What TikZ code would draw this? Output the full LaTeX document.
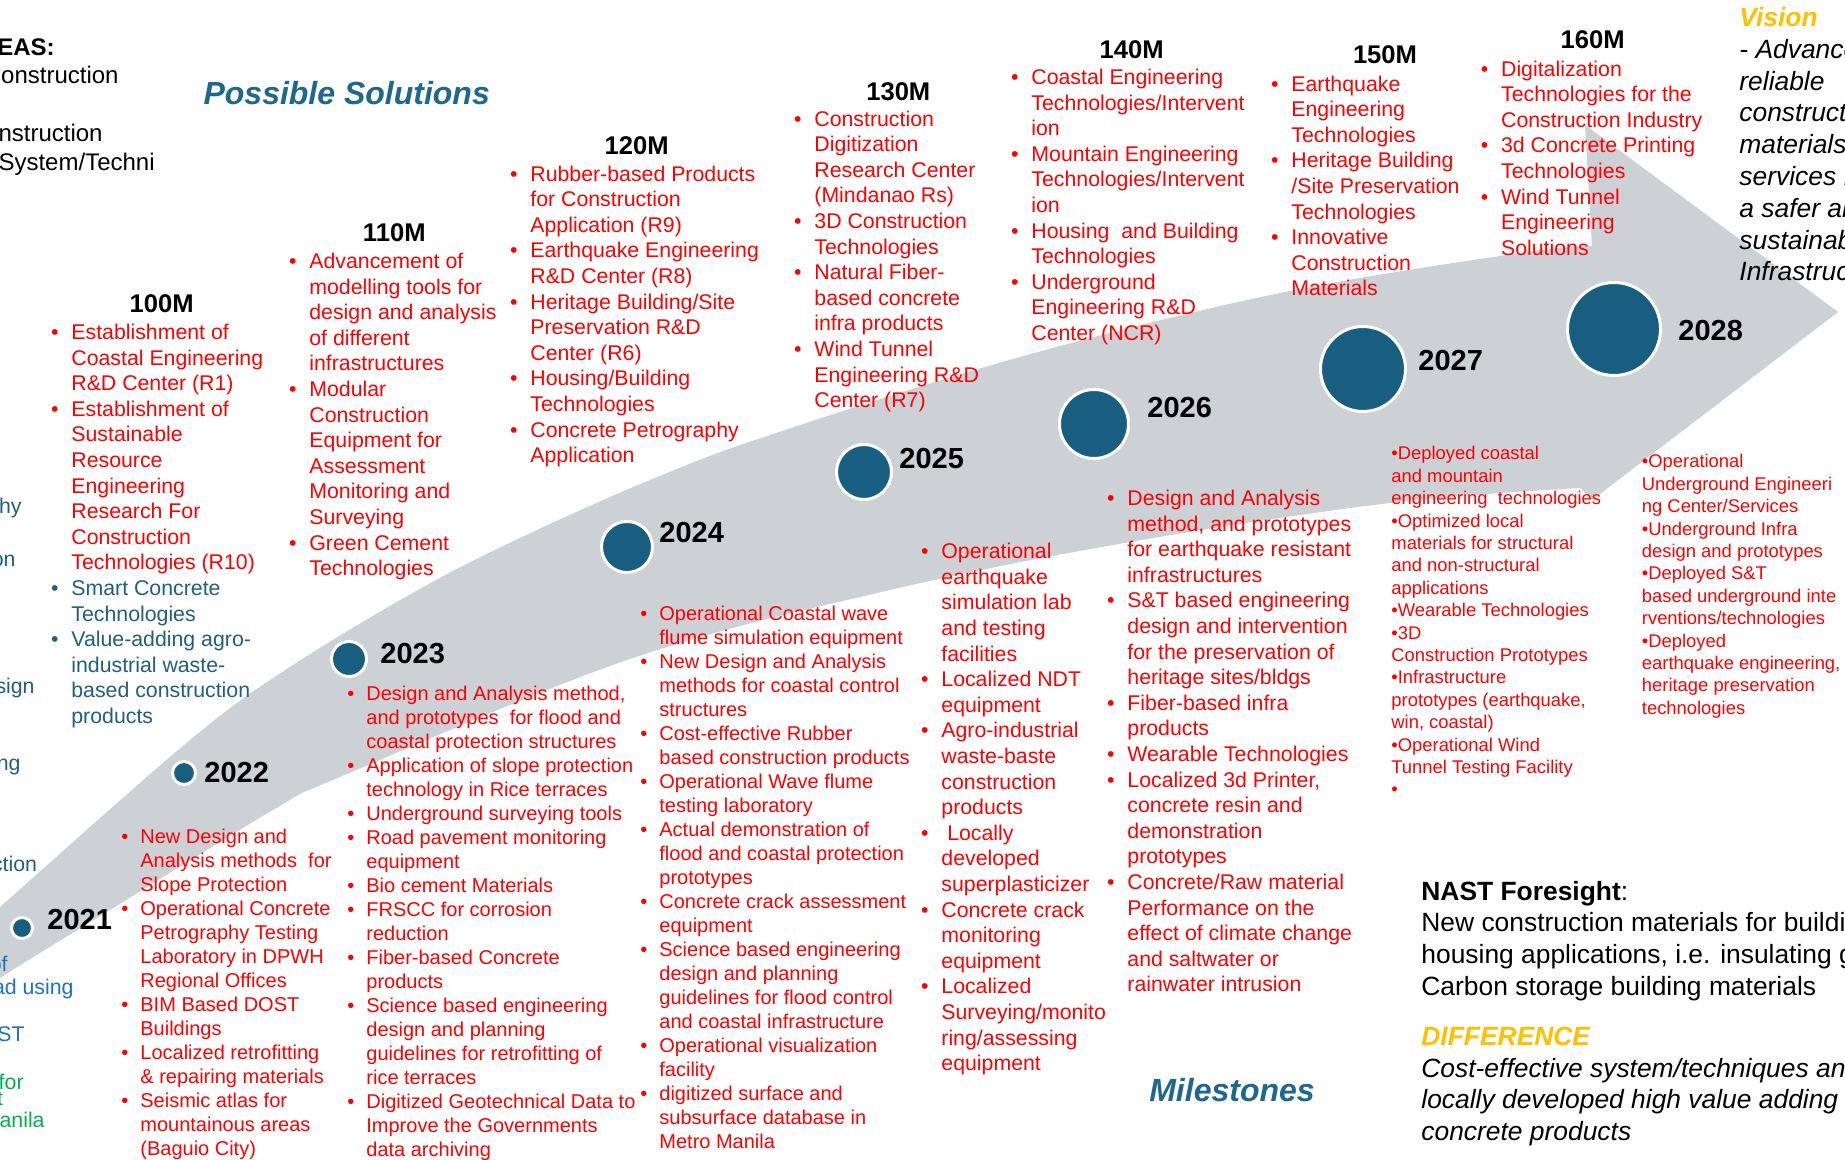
\documentclass[tikz,border=0pt]{standalone}
\usepackage{fontspec}
\setmainfont{Liberation Sans}
\definecolor{bandgray}{RGB}{204,209,214}
\definecolor{dotblue}{RGB}{24,94,128}
\definecolor{titleblue}{RGB}{30,104,140}
\definecolor{nastred}{RGB}{255,0,0}
\definecolor{nastteal}{RGB}{31,95,128}
\definecolor{nastgold}{RGB}{255,192,0}
\definecolor{edgeblue}{RGB}{30,115,190}
\definecolor{edgegreen}{RGB}{0,176,80}
\newcommand{\bul}{\makebox[0pt][r]{\textbullet\hspace{0.6em}}}
\newcommand{\tealln}[1]{\textcolor{nastteal}{#1}}
\begin{document}
\begin{tikzpicture}[x=0.5pt, y=-0.5pt,
		band/.style={fill=bandgray},
		msdot/.style={circle, fill=dotblue, draw=white, line width=1.5pt, inner sep=0},
		yr/.style={anchor=west, inner sep=0, font=\bfseries\fontsize{14.5}{17}\selectfont},
		hdr/.style={inner sep=0, font=\bfseries\fontsize{12.8}{15}\selectfont},
		lst/.style={anchor=north west, inner sep=0, yshift=-1.2pt, align=left, text=nastred, execute at begin node=\strut},
		upl/.style={lst, font=\fontsize{10.65}{12.8}\selectfont},
		lol/.style={lst, font=\fontsize{10}{12}\selectfont},
		sml/.style={lst, font=\fontsize{9.2}{11.2}\selectfont},
		cutk/.style={anchor=base east, inner sep=0, font=\fontsize{12}{14.5}\selectfont},
		cutkb/.style={anchor=base east, inner sep=0, font=\bfseries\fontsize{12}{14.5}\selectfont},
		cutb/.style={anchor=base east, inner sep=0, font=\fontsize{10.65}{12.8}\selectfont},
		bigtxt/.style={anchor=north west, inner sep=0, yshift=-2pt, align=left, font=\fontsize{13.2}{15.9}\selectfont, execute at begin node=\strut},
		bigit/.style={bigtxt, font=\itshape\fontsize{13.2}{15.9}\selectfont},
		ttl/.style={inner sep=0, text=titleblue, font=\bfseries\itshape\fontsize{16}{19}\selectfont}
		]
		
		\useasboundingbox (0,0) rectangle (1845,1160);
		\clip (0,0) rectangle (1845,1160);
		
		% timeline arrow
		\fill[band] plot[smooth, tension=0.6] coordinates {(-60,960) (0,907) (190,740) (290,667) (418,590) (520,538) (650,480) (770,435) (1020,357) (1280,293) (1520,253) (1592,246)}
		-- (1585,125) -- (1838,312) -- (1592,500)
		-- plot[smooth, tension=0.6] coordinates {(1580,488) (1390,503) (1130,542) (890,590) (630,659) (340,777) (273,810) (110,910) (0,978) (-60,1020)} -- cycle;
		
		% milestones
		\node[msdot, minimum size=10.5pt] (d21) at (22,928) {};
		\node[msdot, minimum size=11.5pt] (d22) at (184,773) {};
		\node[msdot, minimum size=17.5pt] (d23) at (349,659) {};
		\node[msdot, minimum size=25.5pt] (d24) at (627,547) {};
		\node[msdot, minimum size=27.5pt] (d25) at (864,472) {};
		\node[msdot, minimum size=34.5pt] (d26) at (1094,424) {};
		\node[msdot, minimum size=42.5pt] (d27) at (1363,369) {};
		\node[msdot, minimum size=46.5pt] (d28) at (1614,329) {};
		
		\node[yr] (y21) at (47,920) {2021};
		\node[yr] (y22) at (204,773) {2022};
		\node[yr] (y23) at (380,654) {2023};
		\node[yr] (y24) at (659,533) {2024};
		\node[yr] (y25) at (899,459) {2025};
		\node[yr] (y26) at (1147,408) {2026};
		\node[yr] (y27) at (1418,361) {2027};
		\node[yr] (y28) at (1678,331) {2028};
		
		% budgets and possible solutions
		\node[hdr] (h100) at (161.7,303.3) {100M};
		\node[hdr] (h110) at (394.3,232.7) {110M};
		\node[hdr] (h120) at (636.7,146) {120M};
		\node[hdr] (h130) at (898.3,91.7) {130M};
		\node[hdr] (h140) at (1131.7,49.3) {140M};
		\node[hdr] (h150) at (1385,55) {150M};
		\node[hdr] (h160) at (1592.7,39.3) {160M};
		
		\node[upl] (l100) at (71,321.2) {\bul Establishment of\\ Coastal Engineering\\ R\&D Center (R1)\\ \bul Establishment of\\ Sustainable\\ Resource\\ Engineering\\ Research For\\ Construction\\ Technologies (R10)\\ \tealln{\bul Smart Concrete}\\ \tealln{Technologies}\\ \tealln{\bul Value-adding agro-}\\ \tealln{industrial waste-}\\ \tealln{based construction}\\ \tealln{products}};
		\node[upl] (l110) at (309,250.2) {\bul Advancement of\\ modelling tools for\\ design and analysis\\ of different\\ infrastructures\\ \bul Modular\\ Construction\\ Equipment for\\ Assessment\\ Monitoring and\\ Surveying\\ \bul Green Cement\\ Technologies};
		\node[upl] (l120) at (530,162.8) {\bul Rubber-based Products\\ for Construction\\ Application (R9)\\ \bul Earthquake Engineering\\ R\&D Center (R8)\\ \bul Heritage Building/Site\\ Preservation R\&D\\ Center (R6)\\ \bul Housing/Building\\ Technologies\\ \bul Concrete Petrography\\ Application};
		\node[upl] (l130) at (814,107.8) {\bul Construction\\ Digitization\\ Research Center\\ (Mindanao Rs)\\ \bul 3D Construction\\ Technologies\\ \bul Natural Fiber-\\ based concrete\\ infra products\\ \bul Wind Tunnel\\ Engineering R\&D\\ Center (R7)};
		\node[upl] (l140) at (1031,66.2) {\bul Coastal Engineering\\ Technologies/Intervent\\ ion\\ \bul Mountain Engineering\\ Technologies/Intervent\\ ion\\ \bul Housing\ \ and Building\\ Technologies\\ \bul Underground\\ Engineering R\&D\\ Center (NCR)};
		\node[upl] (l150) at (1291,72.8) {\bul Earthquake\\ Engineering\\ Technologies\\ \bul Heritage Building\\ /Site Preservation\\ Technologies\\ \bul Innovative\\ Construction\\ Materials};
		\node[upl] (l160) at (1500.7,57.8) {\bul Digitalization\\ Technologies for the\\ Construction Industry\\ \bul 3d Concrete Printing\\ Technologies\\ \bul Wind Tunnel\\ Engineering\\ Solutions};
		
		% milestone outputs
		\node[lol] (m22) at (140,826.2) {\bul New Design and\\ Analysis methods\ \ for\\ Slope Protection\\ \bul Operational Concrete\\ Petrography Testing\\ Laboratory in DPWH\\ Regional Offices\\ \bul BIM Based DOST\\ Buildings\\ \bul Localized retrofitting\\ \& repairing materials\\ \bul Seismic atlas for\\ mountainous areas\\ (Baguio City)};
		\node[lol] (m23) at (366,683.5) {\bul Design and Analysis method,\\ and prototypes\ \ for flood and\\ coastal protection structures\\ \bul Application of slope protection\\ technology in Rice terraces\\ \bul Underground surveying tools\\ \bul Road pavement monitoring\\ equipment\\ \bul Bio cement Materials\\ \bul FRSCC for corrosion\\ reduction\\ \bul Fiber-based Concrete\\ products\\ \bul Science based engineering\\ design and planning\\ guidelines for retrofitting of\\ rice terraces\\ \bul Digitized Geotechnical Data to\\ Improve the Governments\\ data archiving};
		\node[lol] (m24) at (659,602.7) {\bul Operational Coastal wave\\ flume simulation equipment\\ \bul New Design and Analysis\\ methods for coastal control\\ structures\\ \bul Cost-effective Rubber\\ based construction products\\ \bul Operational Wave flume\\ testing laboratory\\ \bul Actual demonstration of\\ flood and coastal protection\\ prototypes\\ \bul Concrete crack assessment\\ equipment\\ \bul Science based engineering\\ design and planning\\ guidelines for flood control\\ and coastal infrastructure\\ \bul Operational visualization\\ facility\\ \bul digitized surface and\\ subsurface database in\\ Metro Manila};
		\node[upl] (m25) at (941,540.5) {\bul Operational\\ earthquake\\ simulation lab\\ and testing\\ facilities\\ \bul Localized NDT\\ equipment\\ \bul Agro-industrial\\ waste-baste\\ construction\\ products\\ \bul\ Locally\\ developed\\ superplasticizer\\ \bul Concrete crack\\ monitoring\\ equipment\\ \bul Localized\\ Surveying/monito\\ ring/assessing\\ equipment};
		\node[upl] (m26) at (1127,487.2) {\bul Design and Analysis\\ method, and prototypes\\ for earthquake resistant\\ infrastructures\\ \bul S\&T based engineering\\ design and intervention\\ for the preservation of\\ heritage sites/bldgs\\ \bul Fiber-based infra\\ products\\ \bul Wearable Technologies\\ \bul Localized 3d Printer,\\ concrete resin and\\ demonstration\\ prototypes\\ \bul Concrete/Raw material\\ Performance on the\\ effect of climate change\\ and saltwater or\\ rainwater intrusion};
		\node[sml] (m27) at (1391,443.8) {\textbullet Deployed coastal\\ and mountain\\ engineering\ \ technologies\\ \textbullet Optimized local\\ materials for structural\\ and non-structural\\ applications\\ \textbullet Wearable Technologies\\ \textbullet 3D\\ Construction Prototypes\\ \textbullet Infrastructure\\ prototypes (earthquake,\\ win, coastal)\\ \textbullet Operational Wind\\ Tunnel Testing Facility\\ \textbullet};
		\node[sml] (m28) at (1641.5,451.8) {\textbullet Operational\\ Underground Engineeri\\ ng Center/Services\\ \textbullet Underground Infra\\ design and prototypes\\ \textbullet Deployed S\&T\\ based underground inte\\ rventions/technologies\\ \textbullet Deployed\\ earthquake engineering,\\ heritage preservation\\ technologies};
		
		% titles
		\node[ttl] (sol) at (346.7,92.7) {Possible Solutions};
		\node[ttl] (mil) at (1232,1090) {Milestones};
		
		\node[bigit] (vis) at (1739,3) {\textcolor{nastgold}{\bfseries Vision}\\ - Advanced and\\ reliable\\ construction\\ materials and\\ services for\\ a safer and\\ sustainable\\ Infrastructure};
		\node[bigtxt] (nast) at (1421,876.6) {\textbf{NAST Foresight}:\\ New construction materials for building\\ housing applications, i.e. insulating glass\\ Carbon storage building materials};
		\node[bigit] (diff) at (1421,1022.5) {\textcolor{nastgold}{\bfseries DIFFERENCE}\\ Cost-effective system/techniques and\\ locally developed high value adding\\ concrete products};
		
		% text cut at the left edge
		\node[cutkb] (k1) at (55,55.4) {AREAS:};
		\node[cutk] (k2) at (119,83.4) {Construction};
		\node[cutk] (k3) at (103,141.4) {Construction};
		\node[cutk] (k4) at (155,170.4) {System/Techni};
		\node[cutb, text=nastteal] (e1) at (22,513.5) {Petrography};
		\node[cutb, text=nastteal] (e2) at (16,566) {protection};
		\node[cutb, text=nastteal] (e3) at (35,693) {Design};
		\node[cutb, text=nastteal] (e4) at (21,770) {Engineering};
		\node[cutb, text=nastteal] (e5) at (37.5,871.5) {Construction};
		\node[cutb, text=edgeblue] (e6) at (8,971.5) {of};
		\node[cutb, text=edgeblue] (e7) at (74,994) {Road using};
		\node[cutb, text=edgeblue] (e8) at (25,1041.5) {DOST};
		\node[cutb, text=edgegreen] (e9) at (24,1089.5) {for};
		\node[cutb, text=edgegreen] (e10) at (3.5,1105) {at};
		\node[cutb, text=edgegreen] (e11) at (45,1127.5) {Manila};
		
	\end{tikzpicture}
\end{document}
